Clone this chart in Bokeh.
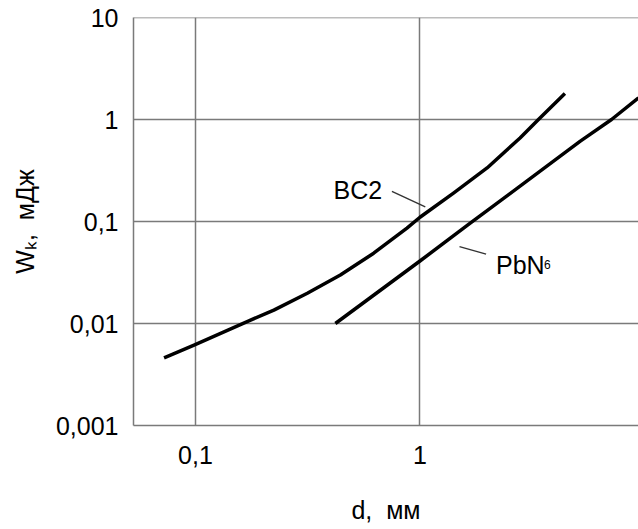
from bokeh.plotting import figure
from bokeh.models import FixedTicker, Label, Span
from bokeh.embed import file_html
from bokeh.resources import INLINE

# ---- data ----
d_bc2 = [0.0725, 0.0986, 0.176, 0.2235, 0.315, 0.442, 0.622, 0.875, 1.0, 1.41, 1.99, 2.79, 3.37, 4.42]
w_bc2 = [0.0046, 0.00613, 0.0108, 0.01354, 0.0198, 0.0299, 0.0489, 0.0861, 0.110, 0.190, 0.335, 0.658, 1.0, 1.80]
d_pbn6 = [0.42, 1.0, 1.64, 5.16, 7.13, 9.4]
w_pbn6 = [0.01, 0.041, 0.093, 0.61, 1.0, 1.63]

x_ticks = [0.1, 1]
x_tick_labels = ["0,1", "1"]
y_ticks = [0.001, 0.01, 0.1, 1, 10]
y_tick_labels = ["0,001", "0,01", "0,1", "1", "10"]

# leader lines (data coords)
bc2_leader_d = [0.75, 1.056]
bc2_leader_w = [0.197, 0.139]
pbn_leader_d = [1.50, 1.97]
pbn_leader_w = [0.0568, 0.0478]

FONT = "Liberation Sans"
GRID = "#7a7a7a"
NB = "\u00a0"

p = figure(width=638, height=529, x_axis_type="log", y_axis_type="log",
           x_range=(0.053, 9.4), y_range=(0.001, 10),
           output_backend="svg", toolbar_location=None,
           min_border_left=133, min_border_right=0,
           min_border_top=17, min_border_bottom=104)
p.outline_line_color = None
p.background_fill_color = "white"
p.border_fill_color = "white"

for ax, ticks, labels in ((p.xaxis[0], x_ticks, x_tick_labels), (p.yaxis[0], y_ticks, y_tick_labels)):
    ax.ticker = FixedTicker(ticks=ticks, minor_ticks=[])
    ax.major_label_overrides = {t: l for t, l in zip(ticks, labels)}
    ax.major_tick_line_color = None
    ax.minor_tick_line_color = None
    ax.major_tick_out = 0
    ax.major_tick_in = 0
    ax.axis_line_color = GRID
    ax.axis_line_width = 1.5
    ax.major_label_text_font = FONT
    ax.major_label_text_font_size = "25px"
    ax.major_label_text_color = "black"
    ax.axis_label_text_font = FONT
    ax.axis_label_text_font_size = "25px"
    ax.axis_label_text_font_style = "normal"
    ax.axis_label_text_color = "black"
p.xaxis[0].major_label_standoff = 20
p.yaxis[0].major_label_standoff = 15
p.xaxis[0].axis_label = "d," + NB + NB + "мм"
p.xaxis[0].axis_label_standoff = 29
p.yaxis[0].axis_label = "Wₖ," + NB + NB + "мДж"
p.yaxis[0].axis_label_standoff = 14

for g in (p.xgrid[0], p.ygrid[0]):
    g.grid_line_color = GRID
    g.grid_line_width = 1.5
    g.minor_grid_line_color = None
p.xgrid[0].ticker = FixedTicker(ticks=x_ticks, minor_ticks=[])
p.ygrid[0].ticker = FixedTicker(ticks=y_ticks, minor_ticks=[])

p.add_layout(Span(location=10, dimension="width", line_color=GRID, line_width=1.5))

# curves
p.line(d_bc2, w_bc2, line_color="black", line_width=3.5, line_join="round")
p.line(d_pbn6, w_pbn6, line_color="black", line_width=3.5, line_join="round")

# leaders
p.line(bc2_leader_d, bc2_leader_w, line_color="#333333", line_width=1.4)
p.line(pbn_leader_d, pbn_leader_w, line_color="#333333", line_width=1.4)

def lab(x, y, text, size):
    p.add_layout(Label(x=x, y=y, text=text, text_font=FONT, text_font_size=size,
                       text_color="black", text_align="left", text_baseline="alphabetic"))

lab(0.412, 0.205, "BC2", "25px")
lab(2.18, 0.0375, "PbN", "25px")
lab(3.57, 0.0375, "6", "12px")

open("out.html", "w").write(file_html(p, INLINE))
